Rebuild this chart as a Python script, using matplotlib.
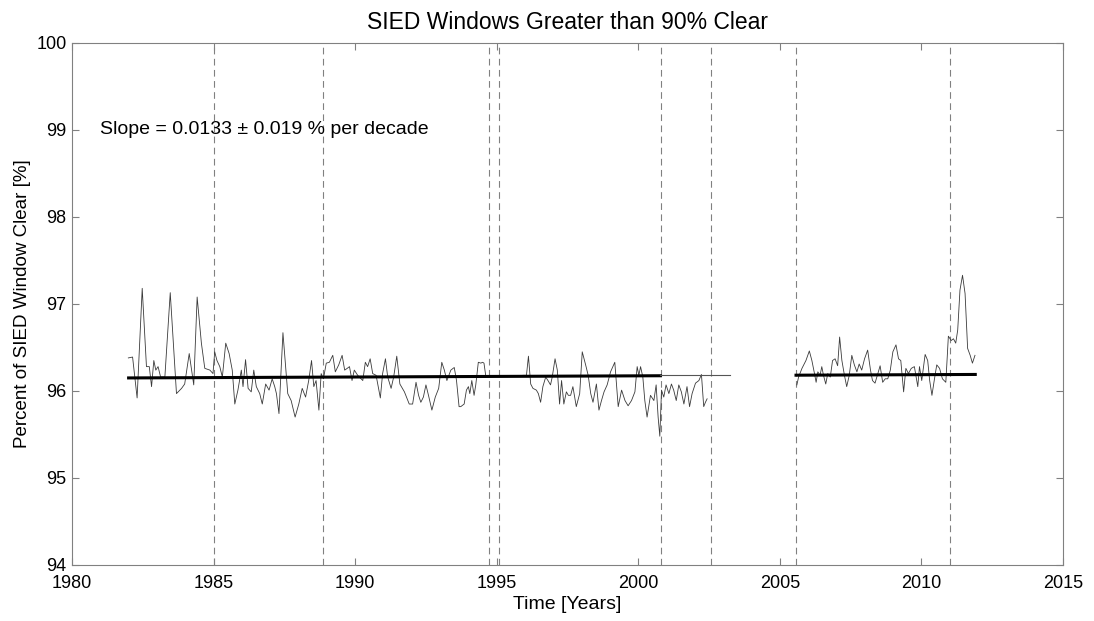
import matplotlib.pyplot as plt

plt.rcParams['font.family'] = ['Liberation Sans', 'DejaVu Sans']

# Serie mensual (anio decimal, porcentaje)
anios_1 = [1981.99, 1982.14, 1982.30, 1982.48, 1982.63, 1982.73, 1982.81, 1982.89, 1982.96, 1983.04,
           1983.13, 1983.28, 1983.47, 1983.69, 1983.87, 1983.98, 1984.14, 1984.30, 1984.42, 1984.57,
           1984.69, 1984.87, 1984.98, 1985.04, 1985.12, 1985.22, 1985.31, 1985.43, 1985.55, 1985.66,
           1985.75, 1985.86, 1985.98, 1986.04, 1986.13, 1986.22, 1986.33, 1986.42, 1986.51, 1986.63,
           1986.72, 1986.84, 1986.96, 1987.07, 1987.16, 1987.22, 1987.31, 1987.45, 1987.62, 1987.74,
           1987.88, 1988.01, 1988.13, 1988.25, 1988.36, 1988.46, 1988.54, 1988.62, 1988.72, 1988.80,
           1988.88, 1988.98, 1989.09, 1989.21, 1989.30, 1989.42, 1989.54, 1989.63, 1989.72, 1989.80,
           1989.89, 1989.97, 1990.09, 1990.27, 1990.36, 1990.44, 1990.53, 1990.62, 1990.74, 1990.89,
           1990.97, 1991.07, 1991.15, 1991.27, 1991.36, 1991.47, 1991.58, 1991.74, 1991.91, 1992.03,
           1992.15, 1992.24, 1992.32, 1992.41, 1992.50, 1992.59, 1992.71, 1992.83, 1992.95, 1993.06,
           1993.15, 1993.24, 1993.38, 1993.50, 1993.58, 1993.67, 1993.73, 1993.85, 1993.93, 1994.00,
           1994.05, 1994.12, 1994.20, 1994.26, 1994.35, 1994.44, 1994.50, 1994.55, 1994.61]
valores_1 = [96.38, 96.39, 95.92, 97.18, 96.28, 96.28, 96.05, 96.35, 96.24, 96.28,
             96.16, 96.16, 97.13, 95.97, 96.03, 96.08, 96.43, 96.07, 97.08, 96.55,
             96.26, 96.24, 96.20, 96.45, 96.35, 96.28, 96.16, 96.55, 96.43, 96.24,
             95.85, 96.01, 96.24, 96.05, 96.36, 96.03, 95.99, 96.24, 96.05, 95.97,
             95.85, 96.08, 96.01, 96.14, 96.05, 95.97, 95.74, 96.67, 95.97, 95.89,
             95.70, 95.85, 96.03, 95.93, 96.12, 96.35, 96.05, 96.12, 95.78, 96.20,
             96.14, 96.32, 96.33, 96.41, 96.22, 96.30, 96.41, 96.24, 96.26, 96.28,
             96.12, 96.24, 96.18, 96.12, 96.33, 96.28, 96.37, 96.20, 96.18, 95.92,
             96.20, 96.37, 96.16, 96.03, 96.16, 96.40, 96.08, 95.99, 95.85, 95.85,
             96.10, 95.95, 95.87, 95.93, 96.07, 95.95, 95.78, 95.93, 96.03, 96.33,
             96.24, 96.12, 96.24, 96.27, 96.12, 95.82, 95.82, 95.85, 96.01, 96.05,
             95.97, 96.12, 95.95, 96.07, 96.33, 96.32, 96.33, 96.32, 96.18]

anios_2 = [1995.93, 1996.05, 1996.12, 1996.20, 1996.28, 1996.40, 1996.47, 1996.55, 1996.63, 1996.73,
           1996.81, 1996.90, 1996.96, 1997.06, 1997.14, 1997.22, 1997.29, 1997.37, 1997.46, 1997.53,
           1997.61, 1997.69, 1997.81, 1997.93, 1998.02, 1998.14, 1998.23, 1998.32, 1998.40, 1998.52,
           1998.61, 1998.70, 1998.79, 1998.90, 1999.02, 1999.17, 1999.29, 1999.41, 1999.53, 1999.64,
           1999.76, 1999.88, 1999.96, 2000.02, 2000.08, 2000.16, 2000.23, 2000.31, 2000.43, 2000.55,
           2000.63, 2000.70, 2000.76, 2000.82, 2000.90, 2000.98, 2001.08, 2001.17, 2001.25, 2001.34,
           2001.43, 2001.52, 2001.61, 2001.72, 2001.81, 2001.90, 2002.02, 2002.14, 2002.23, 2002.31,
           2002.37, 2002.43]
valores_2 = [96.18, 96.18, 96.40, 96.08, 96.03, 96.01, 95.97, 95.87, 96.05, 96.16,
             96.12, 96.07, 96.16, 96.37, 96.24, 95.85, 96.12, 95.85, 95.99, 95.95,
             95.95, 96.05, 95.82, 95.97, 96.45, 96.30, 96.18, 95.97, 95.87, 96.08,
             95.78, 95.89, 95.99, 96.07, 96.22, 96.33, 95.82, 96.01, 95.89, 95.83,
             95.89, 95.99, 96.28, 96.18, 96.28, 96.16, 95.89, 95.70, 95.95, 95.89,
             96.07, 95.70, 95.48, 96.01, 95.93, 96.07, 95.97, 96.08, 96.01, 95.89,
             96.07, 95.99, 95.85, 96.05, 95.82, 95.97, 96.09, 96.12, 96.19, 95.82,
             95.87, 95.91]

anios_3 = [2005.60, 2005.66, 2005.78, 2005.92, 2006.04, 2006.13, 2006.21, 2006.28, 2006.34, 2006.42,
           2006.48, 2006.54, 2006.62, 2006.69, 2006.78, 2006.86, 2006.95, 2007.04, 2007.11, 2007.19,
           2007.28, 2007.36, 2007.45, 2007.54, 2007.63, 2007.72, 2007.80, 2007.89, 2007.99, 2008.10,
           2008.20, 2008.27, 2008.36, 2008.46, 2008.54, 2008.63, 2008.72, 2008.81, 2008.90, 2008.99,
           2009.10, 2009.19, 2009.27, 2009.37, 2009.45, 2009.54, 2009.64, 2009.75, 2009.87, 2009.93,
           2010.01, 2010.13, 2010.22, 2010.29, 2010.37, 2010.46, 2010.54, 2010.64, 2010.74, 2010.86,
           2010.91, 2010.95, 2011.05, 2011.13, 2011.21, 2011.28, 2011.36, 2011.45, 2011.54, 2011.63,
           2011.72, 2011.80, 2011.89]
valores_3 = [96.07, 96.16, 96.26, 96.35, 96.46, 96.35, 96.22, 96.10, 96.22, 96.18,
             96.28, 96.18, 96.08, 96.20, 96.16, 96.35, 96.37, 96.29, 96.62, 96.35,
             96.18, 96.05, 96.18, 96.41, 96.30, 96.22, 96.31, 96.24, 96.37, 96.47,
             96.24, 96.12, 96.09, 96.20, 96.29, 96.10, 96.14, 96.14, 96.24, 96.45,
             96.53, 96.37, 96.35, 95.99, 96.26, 96.20, 96.26, 96.28, 96.05, 96.28,
             96.12, 96.42, 96.35, 96.12, 95.95, 96.14, 96.30, 96.26, 96.14, 96.10,
             96.39, 96.63, 96.58, 96.60, 96.55, 96.70, 97.16, 97.33, 97.12, 96.49,
             96.41, 96.32, 96.41]

# Tendencia lineal (0.0133 % por decada)
tend_anios = [1982.0, 2011.9]
tend_valores = [96.15, 96.19]
tend_fina_anios = [2000.78, 2003.25]
tend_fina_valores = [96.18, 96.18]

# Cambios de satelite (lineas verticales)
cambios = [1985.0, 1988.85, 1994.72, 1995.08, 2000.8, 2002.55, 2005.57, 2011.0]


def tendencia(x):
    m = (tend_valores[1] - tend_valores[0]) / (tend_anios[1] - tend_anios[0])
    return tend_valores[0] + m * (x - tend_anios[0])


fig = plt.figure(figsize=(10.94, 6.21), dpi=100)
ax = fig.add_axes([0.0658, 0.0902, 0.9059, 0.8406])

for x in cambios:
    ax.axvline(x, color="#808080", linewidth=0.8, linestyle=(0, (6, 4)))

for a, v in [(anios_1, valores_1), (anios_2, valores_2), (anios_3, valores_3)]:
    ax.plot(a, v, color="#3a3a3a", linewidth=0.6)

# tendencia gruesa por tramos
ax.plot([tend_anios[0], 2000.78], [tendencia(tend_anios[0]), tendencia(2000.78)],
        color="black", linewidth=2.2)
ax.plot(tend_fina_anios, tend_fina_valores, color="#555555", linewidth=0.8)
ax.plot([2005.57, tend_anios[1]], [tendencia(2005.57), tendencia(tend_anios[1])],
        color="black", linewidth=2.2)

ax.text(1981.0, 99.0, "Slope = 0.0133 \u00b1 0.019 % per decade", fontsize=14,
        ha="left", va="center")

ax.set_xlim(1980, 2015)
ax.set_ylim(94, 100)
ax.set_xticks(range(1980, 2016, 5))
ax.set_yticks(range(94, 101))
ax.tick_params(direction="in", top=True, right=True, length=5, color="#808080",
               labelsize=13)
ax.tick_params(axis="x", pad=7)
ax.tick_params(axis="y", pad=4)
for s in ax.spines.values():
    s.set_color("#808080")

ax.set_title("SIED Windows Greater than 90% Clear", fontsize=16.5, pad=10)
ax.set_xlabel("Time [Years]", fontsize=14, labelpad=3)
ax.set_ylabel("Percent of SIED Window Clear [%]", fontsize=13.5, labelpad=4)

fig.savefig("out.png", dpi=100)
